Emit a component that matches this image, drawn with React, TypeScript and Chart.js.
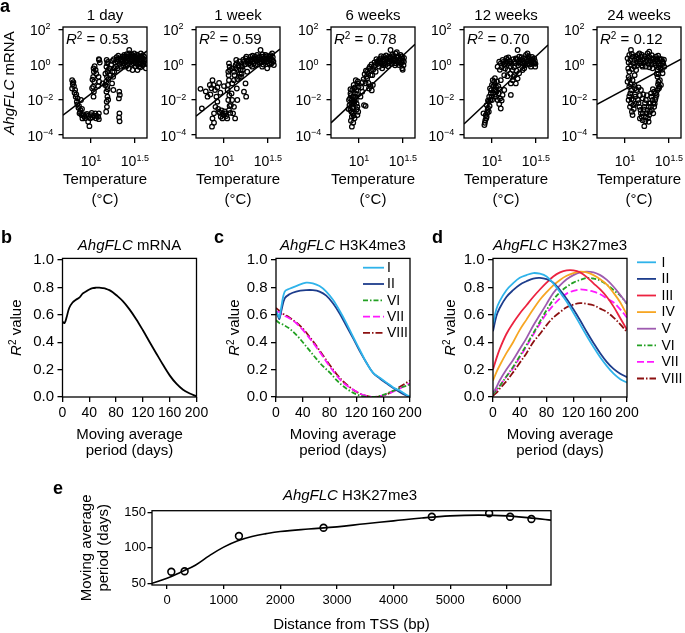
import React, { useEffect, useRef } from "react";
import { Chart, registerables } from "chart.js";

Chart.register(...registerables);

const W = 685;
const H = 633;
const FONT = "'Liberation Sans', Arial, Helvetica, sans-serif";
Chart.defaults.font.family = FONT;
Chart.defaults.color = "#000";

// ================= DATA =================
// ---- panel a: AhgFLC mRNA vs temperature (log-log)
const aTitles = ["1 day", "1 week", "6 weeks", "12 weeks", "24 weeks"];
const aR2 = ["0.53", "0.59", "0.78", "0.70", "0.12"];
const aTempRange = [4.8, 43.5];
const aMrnaRange = [6.8e-5, 135];
const aTempTicks = [10, 31.6228];
const aTempTickLabels = [["10", "1"], ["10", "1.5"]];
const aMrnaTicks = [1e-4, 1e-2, 1, 100];
const aMrnaTickLabels = [["10", "\u22124"], ["10", "\u22122"], ["10", "0"], ["10", "2"]];
// regression line values at aTempRange[0] and aTempRange[1]
const aFitStart = [1.35e-3, 1.17e-3, 4.9e-4, 4.2e-4, 5.5e-3];
const aFitEnd = [5.9, 7.6, 14, 12.9, 2.0];

const a1Day: [number, number][] = [
  [19.2, 0.76], [20.1, 1.46], [21.0, 2.25], [21.9, 1.8], [22.9, 2.8], [23.9, 3.5], [25.0, 1.8], [26.1, 2.25], [27.3, 4.3], [28.5, 2.8],
  [29.8, 3.5], [31.1, 1.8], [32.5, 1.17], [33.9, 2.25], [35.4, 0.76], [37.0, 1.17], [38.7, 2.25], [40.4, 1.46], [42.2, 0.61], [27.3, 6.7],
  [29.8, 0.49], [21.9, 0.76], [18.4, 0.39], [20.1, 0.61], [33.9, 0.49], [26.1, 0.94], [23.9, 1.17], [37.0, 4.3], [31.1, 4.3], [28.5, 1.46],
  [35.4, 1.8], [38.7, 0.94], [40.4, 2.8], [22.9, 1.46], [32.5, 2.8], [25.0, 0.76], [30.4, 1.2], [34.6, 3.1], [24.4, 2.4], [36.2, 2.6],
  [17.0, 1.0], [17.5, 1.6], [18.2, 2.0], [18.9, 1.3], [19.6, 2.6], [20.5, 3.2], [21.4, 1.1], [22.2, 2.0], [23.2, 0.9], [24.0, 2.9],
  [24.8, 1.4], [25.6, 3.9], [26.5, 1.6], [27.0, 0.6], [27.8, 2.0], [28.8, 3.6], [29.4, 1.0], [30.0, 2.4], [30.8, 2.9], [31.6, 1.4],
  [32.2, 0.8], [33.0, 1.9], [33.5, 3.6], [34.2, 1.0], [35.0, 2.4], [35.8, 1.2], [36.6, 1.9], [37.5, 2.9], [38.2, 1.6], [39.0, 3.4],
  [39.6, 1.1], [40.8, 1.9], [41.5, 1.2], [23.5, 2.3], [26.8, 2.9], [29.0, 2.0], [32.8, 2.2], [36.8, 0.7], [18.6, 0.62], [20.3, 1.9],
  [12.4, 1.8], [12.6, 1.3], [12.3, 2.0],
  [10.7, 0.61], [10.8, 0.39], [10.6, 0.2], [10.9, 0.106], [10.6, 0.055], [10.8, 0.029], [10.7, 0.015],
  [11.0, 0.8], [11.3, 0.5], [11.5, 0.3], [10.4, 0.14], [10.3, 0.045],
  [15.1, 1.8], [15.3, 1.17], [15.0, 0.76], [15.4, 0.39], [15.2, 0.2], [14.9, 0.106], [15.3, 0.055], [15.0, 0.029], [15.4, 0.015], [15.1, 0.0078], [15.2, 0.004], [14.9, 0.0021],
  [15.6, 1.4], [15.7, 0.5], [15.8, 0.15], [15.5, 0.04], [15.7, 0.01], [16.2, 0.6], [16.5, 0.25], [14.6, 0.3], [14.5, 0.07],
  [12.2, 0.2], [12.4, 0.106], [12.1, 0.06], [12.3, 0.0017], [12.1, 0.0011], [12.3, 0.0008],
  [21.0, 0.029], [21.3, 0.019], [20.8, 0.012], [21.1, 0.0017], [20.9, 0.001], [21.2, 0.0006],
  [17.6, 0.39], [17.9, 0.2], [17.4, 0.085], [18.0, 0.036], [13.6, 0.085],
  [6.1, 0.13], [6.2, 0.08], [6.1, 0.044], [6.6, 0.036], [6.8, 0.02], [7.05, 0.012], [6.9, 0.0078], [7.3, 0.0045], [7.6, 0.0026], [7.8, 0.00136],
  [7.4, 0.0017], [8.0, 0.00088], [8.4, 0.0011], [7.7, 0.0097], [8.8, 0.00136], [9.3, 0.0012], [9.6, 0.00032], [9.3, 0.00057], [10, 0.00136], [10.4, 0.001],
  [11.2, 0.0017], [11.6, 0.0012],
  [6.3, 0.1], [6.4, 0.06], [6.5, 0.025], [6.7, 0.015], [7.0, 0.0055], [7.2, 0.0035], [7.5, 0.002], [8.2, 0.0015], [8.6, 0.0009], [9.0, 0.0016],
  [9.8, 0.0009], [10.2, 0.0018], [10.8, 0.0013], [11.4, 0.0009], [7.9, 0.003],
];
const a1Week: [number, number][] = [
  [5.4, 0.042], [5.6, 0.0032], [6.5, 0.015], [6.9, 0.069], [7.4, 0.13], [7.6, 0.069], [7.9, 0.036], [8.2, 0.015], [8.4, 0.0078], [8.0, 0.004],
  [7.7, 0.0017], [7.4, 0.00088], [7.7, 0.0005], [7.3, 0.0003], [8.8, 0.0021], [9.2, 0.0011], [9.6, 0.00088], [10, 0.00136], [10.4, 0.0017], [10.9, 0.00088],
  [11.4, 0.0026], [11.2, 0.0097], [11.0, 0.036], [11.4, 0.13], [11.2, 0.39], [11.6, 0.76], [11.4, 1.17], [12.4, 0.085], [13.0, 0.13], [13.0, 0.39],
  [13.6, 0.94], [13.8, 1.8], [12.4, 0.61], [12.2, 0.023], [12.4, 0.0097], [13.0, 0.004], [12.7, 0.0017], [13.4, 0.00088], [14.2, 0.0097], [14.0, 0.044],
  [14.8, 0.2], [15.5, 0.49], [16.1, 0.76], [16.9, 1.46], [17.6, 2.25], [18.4, 0.39], [17.6, 0.085], [16.9, 0.029], [17.9, 0.015], [19.2, 1.8],
  [20.1, 2.8], [21.0, 1.46], [21.9, 2.25], [22.9, 0.94], [23.9, 3.5], [25.0, 1.8], [26.1, 6.7], [27.3, 2.8], [28.5, 1.46], [29.8, 3.5],
  [31.1, 2.25], [32.5, 1.17], [33.9, 2.8], [35.4, 1.8], [37.0, 0.94], [21.0, 0.76], [27.3, 0.76], [31.1, 0.61], [35.4, 4.3], [20.1, 0.94],
  [22.9, 1.8], [24.4, 2.4], [30.4, 1.4], [18.8, 1.1], [15.9, 0.3],
  [17.2, 1.0], [18.0, 2.8], [18.6, 1.6], [19.5, 1.2], [20.3, 2.0], [21.2, 3.2], [22.0, 1.2], [22.6, 2.8], [23.4, 1.6], [24.2, 1.0],
  [25.2, 2.7], [25.8, 1.3], [26.6, 2.0], [27.6, 3.8], [28.0, 1.0], [29.0, 2.3], [30.0, 1.9], [30.8, 3.0], [31.8, 1.5], [32.8, 2.2],
  [33.4, 1.0], [34.4, 2.0], [35.0, 1.2], [36.0, 2.6], [36.6, 1.5], [19.9, 1.5], [23.0, 2.2], [27.0, 1.4], [34.0, 3.4], [29.5, 2.7],
  [13.2, 0.25], [13.5, 0.6], [14.0, 1.2], [14.4, 0.5], [14.6, 0.9], [15.0, 1.5], [15.2, 0.3], [15.8, 1.1], [16.4, 0.5], [16.6, 1.9],
  [14.2, 0.15], [15.6, 0.2],
  [8.6, 0.003], [9.0, 0.0018], [9.4, 0.0025], [9.8, 0.0014], [10.2, 0.0022], [10.6, 0.0012], [11.8, 0.0018], [12.0, 0.005], [11.6, 0.0045], [7.0, 0.02],
  [7.2, 0.045], [6.2, 0.03], [8.4, 0.05], [8.8, 0.09], [9.1, 0.025], [10.0, 0.06],
  [11.3, 0.25], [11.1, 0.07], [11.5, 0.018], [11.7, 0.5],
];
const a6Weeks: [number, number][] = [
  [9.2, 0.13], [9.6, 0.085], [9.0, 0.05], [8.4, 0.036], [8.0, 0.023], [8.5, 0.015], [8.3, 0.0097], [8.8, 0.0063], [7.8, 0.005], [8.4, 0.0037],
  [8.0, 0.0026], [8.5, 0.0017], [8.3, 0.0011], [8.1, 0.00065], [8.3, 0.0003], [9.2, 0.0097], [9.6, 0.004], [9.8, 0.0021], [9.6, 0.00136], [9.0, 0.023],
  [7.7, 0.0097], [8.8, 0.044], [10.4, 0.015], [11.4, 0.005], [11.9, 0.0045], [10.9, 0.029], [11.9, 0.085], [12.4, 0.16], [13.0, 0.044], [14.0, 0.034],
  [14.4, 0.069], [12.1, 0.2], [12.4, 0.39], [13.0, 0.61], [13.6, 0.49], [14.2, 0.25], [14.8, 0.76], [15.5, 0.94], [16.1, 1.46], [16.9, 1.8],
  [17.6, 2.25], [18.4, 1.17], [19.2, 2.8], [20.1, 2.25], [21.0, 1.8], [21.9, 2.8], [22.9, 6.7], [23.9, 3.5], [25.0, 2.25], [26.1, 4.3],
  [27.3, 2.8], [28.5, 1.8], [29.8, 3.5], [31.1, 2.25], [32.5, 1.46], [31.1, 0.61], [28.5, 0.94], [26.1, 1.17], [23.9, 1.46], [16.9, 0.76],
  [15.5, 0.39], [18.4, 0.61], [20.1, 0.94], [21.9, 1.17], [17.6, 1.17], [13.6, 0.25], [24.4, 2.0], [30.4, 1.3], [19.6, 1.6], [8.6, 0.0078], [9.4, 0.0028],
  [7.9, 0.012], [8.1, 0.018], [8.2, 0.006], [8.6, 0.003], [8.7, 0.0013], [8.9, 0.008], [9.1, 0.015], [9.3, 0.035], [9.4, 0.006], [8.2, 0.0021],
  [8.6, 0.0005], [8.0, 0.04], [8.7, 0.07], [9.5, 0.02], [9.9, 0.055], [9.7, 0.11], [8.9, 0.0009], [7.6, 0.003],
  [10.6, 0.05], [11.0, 0.1], [11.3, 0.15], [11.6, 0.28], [12.0, 0.45], [12.7, 0.3], [13.3, 0.75], [13.9, 1.0], [14.5, 0.5], [12.8, 0.09], [13.5, 0.06],
  [15.0, 1.3], [15.8, 2.0], [16.5, 1.1], [17.2, 1.5], [17.9, 3.0], [18.8, 2.0], [19.5, 1.2], [20.4, 3.3], [21.3, 2.2], [22.2, 1.5],
  [23.0, 2.5], [23.6, 1.1], [24.6, 3.0], [25.4, 1.6], [26.6, 2.6], [27.7, 1.3], [28.2, 3.0], [29.3, 2.0], [30.0, 1.1], [30.8, 2.9],
  [31.6, 1.7], [32.2, 0.9], [32.6, 2.4], [25.8, 0.9], [27.0, 5.0], [29.0, 1.6], [19.0, 0.9], [21.5, 0.8], [31.5, 0.5],
];
const a12Weeks: [number, number][] = [
  [8.2, 0.00037], [8.4, 0.0007], [8.5, 0.00136], [8.0, 0.0017], [8.9, 0.0026], [8.7, 0.005], [9.2, 0.0078], [9.3, 0.015], [9.7, 0.023], [9.5, 0.044],
  [10, 0.069], [10.2, 0.13], [10.6, 0.036], [11.1, 0.015], [11.6, 0.0097], [12.1, 0.0058], [12.6, 0.0032], [11.9, 0.023], [11.1, 0.055], [10.6, 0.106],
  [13.2, 0.019], [13.8, 0.036], [8.7, 0.0011], [9.2, 0.0021], [16.4, 0.019], [10, 0.0097],
  [8.3, 0.0005], [8.6, 0.0009], [8.8, 0.0018], [9.0, 0.0035], [9.4, 0.0045], [9.6, 0.01], [9.9, 0.015], [10.3, 0.025], [10.4, 0.06], [10.8, 0.08],
  [10.9, 0.02], [11.3, 0.03], [11.8, 0.06], [12.2, 0.04], [12.4, 0.012], [12.9, 0.009], [9.0, 0.009], [9.8, 0.035], [10.8, 0.17], [11.4, 0.11],
  [11.6, 0.76], [12.1, 1.46], [12.6, 1.17], [13.2, 1.8], [13.8, 0.94], [14.4, 1.46], [15.1, 1.8], [15.8, 1.17], [16.4, 0.76], [17.2, 0.49],
  [18.0, 1.46], [18.7, 2.25], [19.6, 6.7], [20.4, 2.8], [21.4, 1.8], [22.3, 1.17], [23.3, 2.25], [24.4, 3.5], [25.4, 4.3], [26.6, 2.25],
  [27.8, 1.46], [29.0, 1.8], [30.3, 1.17], [31.1, 0.76], [16.4, 0.085], [17.2, 0.13], [18.0, 0.25], [19.6, 0.16], [20.4, 0.32], [18.7, 0.085],
  [15.1, 0.49], [13.8, 0.25], [12.6, 0.13], [23.3, 0.61], [27.8, 0.76], [30.3, 2.25], [22.3, 0.49], [14.6, 2.3], [21.0, 1.3], [25.9, 1.5], [28.6, 2.7],
  [12.3, 0.5], [12.9, 0.7], [13.5, 1.4], [14.1, 0.6], [14.8, 1.1], [15.4, 2.5], [16.0, 1.5], [16.8, 1.1], [17.5, 2.0], [17.8, 0.7],
  [18.4, 1.2], [19.2, 2.0], [19.9, 1.4], [20.8, 1.1], [21.7, 2.6], [22.7, 1.6], [23.8, 1.2], [24.9, 1.9], [25.6, 1.1], [26.2, 3.0],
  [27.2, 1.8], [28.2, 1.1], [29.5, 1.4], [30.8, 1.6], [31.3, 1.1], [26.9, 1.0], [24.0, 0.9], [20.0, 0.9], [16.2, 0.3], [17.6, 0.2],
  [19.0, 0.45], [15.0, 0.22],
];
const a24Weeks: [number, number][] = [
  [10.7, 2.25], [11.2, 3.5], [11.7, 6.7], [12.2, 2.8], [12.8, 1.8], [13.4, 2.25], [14.0, 3.5], [14.6, 4.3], [15.2, 2.8], [15.9, 1.8],
  [16.6, 2.25], [17.3, 1.46], [18.1, 4.3], [18.9, 2.8], [19.8, 2.25], [20.6, 1.8], [21.5, 1.17], [22.5, 2.8], [23.5, 1.46], [24.6, 2.25],
  [25.7, 0.94], [26.8, 1.46], [28.0, 0.76], [18.9, 5.3], [14.6, 1.17], [17.3, 0.76], [20.6, 0.61], [12.8, 0.76], [11.7, 0.94], [11.2, 0.39],
  [13.4, 0.49], [23.5, 0.49], [26.8, 0.32], [15.9, 0.76], [22.5, 0.94],
  [11.0, 1.3], [11.5, 1.8], [12.0, 4.0], [12.5, 1.2], [13.1, 3.0], [13.7, 1.4], [14.3, 2.0], [14.9, 1.5], [15.5, 3.6], [16.2, 1.2],
  [16.9, 3.0], [17.7, 2.1], [18.5, 1.1], [19.3, 1.6], [20.2, 3.4], [21.0, 2.2], [21.9, 1.5], [22.9, 2.0], [23.9, 3.2], [24.2, 1.1],
  [25.1, 1.8], [26.2, 2.0], [27.3, 1.1], [27.8, 1.9], [20.0, 1.0], [15.5, 0.9], [13.8, 0.9], [25.5, 0.6], [24.0, 0.7], [19.0, 0.7],
  [26.4, 0.5], [12.0, 0.55],
  [11.0, 0.2], [10.7, 0.106], [11.2, 0.055], [11.5, 0.023], [11.0, 0.0097], [11.7, 0.0063], [11.4, 0.004], [12.0, 0.0021], [12.2, 0.00136], [12.5, 0.0097],
  [13.1, 0.015], [13.6, 0.036], [12.8, 0.069], [12.2, 0.13],
  [10.9, 0.6], [11.3, 0.15], [11.6, 0.08], [11.8, 0.035], [11.2, 0.016], [11.9, 0.011], [12.4, 0.005], [12.6, 0.003], [13.0, 0.02], [13.3, 0.006],
  [12.9, 0.25], [13.0, 0.045],
  [14.0, 0.0097], [14.6, 0.004], [15.2, 0.0017], [14.8, 0.00088], [15.9, 0.0007], [16.6, 0.00032], [17.3, 0.0011], [18.1, 0.0026], [18.9, 0.00136], [19.8, 0.004],
  [20.6, 0.0097], [18.9, 0.0063], [17.3, 0.0097], [16.6, 0.004], [15.9, 0.012], [19.8, 0.023], [21.5, 0.029], [21.0, 0.0017], [18.6, 0.00057], [15.2, 0.036],
  [14.3, 0.05],
  [14.3, 0.0065], [15.0, 0.0027], [15.5, 0.0011], [16.0, 0.0017], [16.3, 0.0028], [17.0, 0.0006], [17.6, 0.0017], [18.3, 0.0009], [18.6, 0.004], [19.3, 0.0021],
  [19.5, 0.0065], [20.2, 0.0026], [20.0, 0.015], [16.9, 0.0065], [17.8, 0.018], [16.2, 0.02], [14.8, 0.018],
  [23.5, 0.2], [24.1, 0.106], [24.6, 0.055], [23.5, 0.036], [22.9, 0.019], [22.1, 0.0097], [21.5, 0.004], [25.0, 0.13], [25.7, 0.069],
  [23.0, 0.3], [24.0, 0.28], [23.8, 0.075], [24.4, 0.045], [22.5, 0.025], [22.4, 0.013], [21.8, 0.006], [21.0, 0.0065], [20.8, 0.04],
];
const aPoints = [a1Day, a1Week, a6Weeks, a12Weeks, a24Weeks];

// ---- panels b, c, d: R^2 vs moving average period (days)
const r2Ticks = [0, 0.2, 0.4, 0.6, 0.8, 1.0];
const r2Range = [0, 1.012];
const dayTicks = [0, 40, 80, 120, 160, 200];
const dayRange = [0, 200];

const bDays = [0, 3, 6, 10, 15, 20, 25, 30, 35, 40, 45, 50, 55, 60, 65, 70, 75, 80, 90, 100, 110, 120, 130, 140, 150, 160, 170, 180, 190, 200];
const bMrna = [0.55, 0.54, 0.58, 0.65, 0.69, 0.71, 0.725, 0.755, 0.77, 0.785, 0.795, 0.798, 0.798, 0.795, 0.79, 0.78, 0.765, 0.745, 0.7, 0.64, 0.568, 0.487, 0.402, 0.318, 0.235, 0.158, 0.097, 0.053, 0.026, 0.005];

const cDaysA = [0, 3, 5, 8, 13, 20, 30, 45, 55, 65, 75, 85, 95, 105, 115, 125, 135, 145, 155, 165, 175, 185, 195, 200];
const cI = [0.63, 0.6, 0.58, 0.66, 0.77, 0.79, 0.81, 0.835, 0.83, 0.81, 0.77, 0.71, 0.63, 0.54, 0.44, 0.345, 0.25, 0.176, 0.14, 0.105, 0.07, 0.045, 0.015, 0.005];
const cII = [0.62, 0.59, 0.57, 0.63, 0.72, 0.75, 0.77, 0.78, 0.78, 0.77, 0.74, 0.685, 0.61, 0.52, 0.43, 0.335, 0.25, 0.175, 0.135, 0.1, 0.065, 0.035, 0.01, 0.0];
const cDaysB = [0, 5, 10, 20, 30, 40, 50, 60, 70, 80, 90, 100, 110, 120, 130, 140, 150, 160, 170, 180, 190, 200];
const cVI = [0.56, 0.54, 0.53, 0.5, 0.455, 0.4, 0.34, 0.28, 0.225, 0.18, 0.125, 0.08, 0.045, 0.02, 0.005, 0.0, 0.002, 0.015, 0.035, 0.055, 0.075, 0.09];
const cVII = [0.62, 0.62, 0.6, 0.575, 0.54, 0.49, 0.43, 0.365, 0.295, 0.225, 0.16, 0.105, 0.07, 0.04, 0.015, 0.002, 0.002, 0.012, 0.03, 0.05, 0.075, 0.1];
const cVIII = [0.65, 0.63, 0.61, 0.58, 0.545, 0.5, 0.44, 0.375, 0.305, 0.235, 0.17, 0.115, 0.072, 0.038, 0.015, 0.003, 0.0, 0.01, 0.03, 0.06, 0.09, 0.12];

const dDays = [0, 5, 10, 20, 30, 40, 50, 60, 70, 80, 90, 100, 110, 120, 130, 140, 150, 160, 170, 180, 190, 200];
const dI = [0.53, 0.64, 0.7, 0.78, 0.83, 0.87, 0.89, 0.905, 0.9, 0.88, 0.83, 0.765, 0.695, 0.615, 0.53, 0.445, 0.365, 0.29, 0.225, 0.17, 0.13, 0.105];
const dII = [0.48, 0.59, 0.65, 0.73, 0.78, 0.82, 0.845, 0.865, 0.87, 0.86, 0.835, 0.78, 0.715, 0.64, 0.56, 0.475, 0.395, 0.32, 0.255, 0.205, 0.17, 0.145];
const dIII = [0.2, 0.28, 0.35, 0.46, 0.54, 0.61, 0.67, 0.73, 0.785, 0.835, 0.88, 0.91, 0.925, 0.925, 0.91, 0.875, 0.83, 0.785, 0.73, 0.66, 0.575, 0.49];
const dIV = [0.12, 0.18, 0.23, 0.32, 0.4, 0.49, 0.565, 0.64, 0.71, 0.765, 0.815, 0.855, 0.885, 0.905, 0.915, 0.91, 0.89, 0.86, 0.82, 0.76, 0.69, 0.6];
const dV = [0.03, 0.07, 0.12, 0.2, 0.27, 0.35, 0.43, 0.52, 0.6, 0.68, 0.76, 0.815, 0.86, 0.89, 0.91, 0.915, 0.91, 0.89, 0.855, 0.805, 0.745, 0.68];
const dVI = [0.02, 0.05, 0.08, 0.15, 0.22, 0.3, 0.38, 0.465, 0.55, 0.635, 0.71, 0.765, 0.805, 0.835, 0.855, 0.87, 0.865, 0.85, 0.82, 0.78, 0.74, 0.68];
const dVII = [0.02, 0.05, 0.08, 0.15, 0.21, 0.29, 0.37, 0.455, 0.535, 0.61, 0.67, 0.72, 0.755, 0.775, 0.785, 0.78, 0.77, 0.75, 0.72, 0.69, 0.64, 0.58];
const dVIII = [0.01, 0.03, 0.06, 0.115, 0.18, 0.25, 0.32, 0.4, 0.46, 0.525, 0.58, 0.62, 0.655, 0.675, 0.685, 0.68, 0.67, 0.645, 0.62, 0.58, 0.53, 0.475];

// ---- panel e
const eDistance = [76, 311, 1270, 2764, 4676, 5688, 6058, 6434];
const ePeriod = [66.3, 67, 116.6, 128.3, 143.8, 148.6, 143.8, 140.6];
const eFitDistance = [-265, 0, 250, 500, 750, 1000, 1250, 1500, 1750, 2000, 2500, 3000, 3500, 4000, 4500, 5000, 5500, 6000, 6500, 6780];
const eFitPeriod = [50, 57, 66, 75.5, 89, 101, 110, 116, 120, 123, 126.5, 129.5, 134, 138, 142, 145, 146, 145, 141.5, 139];
const eXTicks = [0, 1000, 2000, 3000, 4000, 5000, 6000];
const eYTicks = [50, 100, 150];
const eXRange = [-265, 6780];
const eYRange = [47.6, 152.3];

// ================= STYLES / LAYOUT =================
const seriesStyle: Record<string, { color: string; dash: number[] }> = {
  I: { color: "#2FB3EA", dash: [] },
  II: { color: "#1D3D8C", dash: [] },
  III: { color: "#EC2340", dash: [] },
  IV: { color: "#F7A623", dash: [] },
  V: { color: "#9E5BB0", dash: [] },
  VI: { color: "#22A022", dash: [5, 2, 1.5, 2] },
  VII: { color: "#FF19FF", dash: [7, 3] },
  VIII: { color: "#8C1010", dash: [7, 2, 1.5, 2] },
};

const aBoxL = [63, 196, 331, 464, 597];
const aBoxW = 84;
const aBoxT = 27;
const aBoxB = 138;
const bcdBoxL = [62.5, 276, 493];
const bcdBoxW = 134;
const bcdBoxT = 258.4;
const bcdBoxB = 397;
const eBox = { l: 152, r: 551, t: 510.7, b: 585 };

type Seg = { t: string; it?: boolean; sup?: boolean; bold?: boolean };

function rich(
  ctx: CanvasRenderingContext2D,
  segs: Seg[],
  x: number,
  y: number,
  size: number,
  align: "left" | "center" | "right" = "left",
  rot = 0,
  raise = size * 0.38
) {
  ctx.save();
  ctx.translate(x, y);
  if (rot) ctx.rotate(rot);
  ctx.fillStyle = "#000";
  ctx.textAlign = "left";
  ctx.textBaseline = "alphabetic";
  const fonts = segs.map(
    (s) => `${s.it ? "italic " : ""}${s.bold ? "bold " : ""}${s.sup ? Math.round(size * 0.64) : size}px ${FONT}`
  );
  const widths = segs.map((s, i) => {
    ctx.font = fonts[i];
    return ctx.measureText(s.t).width;
  });
  const total = widths.reduce((a, b) => a + b, 0);
  let cx = align === "left" ? 0 : align === "center" ? -total / 2 : -total;
  segs.forEach((s, i) => {
    ctx.font = fonts[i];
    ctx.fillText(s.t, cx, s.sup ? -raise : 0);
    cx += widths[i];
  });
  ctx.restore();
}

function drawBox(chart: any) {
  const ctx = chart.ctx;
  const ca = chart.chartArea;
  ctx.save();
  ctx.strokeStyle = "#000";
  ctx.lineWidth = 1.3;
  ctx.strokeRect(ca.left, ca.top, ca.right - ca.left, ca.bottom - ca.top);
  ctx.restore();
}

const AXY = 50;
const AXX = 32;
type Box = { l: number; t: number; r: number; b: number };

function axis(
  type: string,
  range: number[],
  ticks: number[],
  isY: boolean,
  t: { len: number; pad: number; size: number; show: boolean; fmt?: (v: number) => string }
) {
  return {
    type,
    min: range[0],
    max: range[1],
    position: isY ? "left" : "bottom",
    afterFit: (s: any) => {
      if (isY) s.width = AXY;
      else s.height = AXX;
    },
    afterBuildTicks: (s: any) => {
      s.ticks = ticks.map((v) => ({ value: v }));
    },
    border: { display: false },
    grid: { drawOnChartArea: false, drawTicks: true, tickLength: t.len, color: "#000", lineWidth: 1.3 },
    ticks: {
      display: t.show,
      padding: t.pad,
      font: { size: t.size, family: FONT },
      color: "#000",
      maxRotation: 0,
      minRotation: 0,
      autoSkip: false,
      callback: (v: any) => (t.fmt ? t.fmt(Number(v)) : String(v)),
    },
    title: { display: false },
  };
}

function baseOptions(box: Box, scales: any) {
  return {
    responsive: false,
    maintainAspectRatio: false,
    animation: false,
    devicePixelRatio: 1,
    events: [],
    layout: {
      autoPadding: false,
      padding: { left: box.l - AXY, top: box.t, right: W - box.r, bottom: H - box.b - AXX },
    },
    plugins: { legend: { display: false }, tooltip: { enabled: false }, title: { display: false } },
    scales,
  };
}

// ================= CHART BUILDERS =================
function buildA(k: number) {
  return (canvas: HTMLCanvasElement) => {
    const box = { l: aBoxL[k], r: aBoxL[k] + aBoxW, t: aBoxT, b: aBoxB };
    const deco = {
      id: "decoA" + k,
      afterDraw(chart: any) {
        const ctx = chart.ctx;
        const ca = chart.chartArea;
        drawBox(chart);
        const cx = (ca.left + ca.right) / 2;
        rich(ctx, [{ t: aTitles[k] }], cx, 20, 15, "center");
        rich(ctx, [{ t: "R", it: true }, { t: "2", sup: true }, { t: " = " + aR2[k] }], ca.left + 3, 44, 15, "left", 0, 4.8);
        const ys = chart.scales.y;
        const xs = chart.scales.x;
        aMrnaTicks.forEach((v, i) => {
          const py = ys.getPixelForValue(v);
          rich(ctx, [{ t: aMrnaTickLabels[i][0] }, { t: aMrnaTickLabels[i][1], sup: true }], ca.left - 22.7, py + 5.5, 14, "center", 0, 5.5);
        });
        aTempTicks.forEach((v, i) => {
          const px = xs.getPixelForValue(v);
          rich(ctx, [{ t: aTempTickLabels[i][0] }, { t: aTempTickLabels[i][1], sup: true }], px, 166, 14, "center", 0, 5.5);
        });
        rich(ctx, [{ t: "Temperature" }], cx, 184, 15, "center");
        rich(ctx, [{ t: "(\u00B0C)" }], cx, 204, 15, "center");
        if (k === 0) {
          rich(ctx, [{ t: "a", bold: true }], 0, 12, 18);
          rich(ctx, [{ t: "AhgFLC", it: true }, { t: " mRNA" }], 14, 83, 15, "center", -Math.PI / 2);
        }
      },
    };
    return new Chart(canvas, {
      type: "scatter",
      data: {
        datasets: [
          {
            type: "scatter",
            data: aPoints[k].map(([x, y]) => ({ x, y })),
            pointRadius: 2.3,
            pointHoverRadius: 2.3,
            pointBorderWidth: 1.25,
            pointBackgroundColor: "rgba(0,0,0,0)",
            pointBorderColor: "#000",
          },
          {
            type: "line",
            data: [
              { x: aTempRange[0], y: aFitStart[k] },
              { x: aTempRange[1], y: aFitEnd[k] },
            ],
            showLine: true,
            borderColor: "#000",
            borderWidth: 1.5,
            pointRadius: 0,
            fill: false,
          },
        ],
      },
      options: baseOptions(box, {
        x: axis("logarithmic", aTempRange, aTempTicks, false, { len: 5, pad: 3, size: 14, show: false }),
        y: axis("logarithmic", aMrnaRange, aMrnaTicks, true, { len: 4.5, pad: 3, size: 14, show: false }),
      }) as any,
      plugins: [deco],
    } as any);
  };
}

const bcdLetters = ["b", "c", "d"];
const bcdSubtitles = [" mRNA", " H3K4me3", " H3K27me3"];
const bcdLetterX = [1, 214, 432];
const bcdYTitleX = [21, 239, 455];

function legendPlugin(x1: number, x2: number, xt: number, y0: number, dy: number) {
  return {
    id: "legendLines",
    afterDraw(chart: any) {
      const ctx = chart.ctx;
      chart.data.datasets.forEach((ds: any, i: number) => {
        const y = y0 + i * dy;
        ctx.save();
        ctx.strokeStyle = ds.borderColor;
        ctx.lineWidth = ds.borderWidth;
        ctx.setLineDash(ds.borderDash || []);
        ctx.beginPath();
        ctx.moveTo(x1, y);
        ctx.lineTo(x2, y);
        ctx.stroke();
        ctx.restore();
        ctx.save();
        ctx.font = `14px ${FONT}`;
        ctx.fillStyle = "#000";
        ctx.textBaseline = "middle";
        ctx.textAlign = "left";
        ctx.fillText(ds.label, xt, y + 0.5);
        ctx.restore();
      });
    },
  };
}

function lineDataset(label: string, days: number[], vals: number[]) {
  const st = seriesStyle[label] || { color: "#000", dash: [] };
  return {
    label,
    data: days.map((d, i) => ({ x: d, y: vals[i] })),
    borderColor: st.color,
    borderDash: st.dash,
    borderWidth: 1.8,
    pointRadius: 0,
    tension: 0.35,
    fill: false,
  };
}

function buildBCD(k: number) {
  return (canvas: HTMLCanvasElement) => {
    const box = { l: bcdBoxL[k], r: bcdBoxL[k] + bcdBoxW, t: bcdBoxT, b: bcdBoxB };
    let datasets: any[] = [];
    if (k === 0) {
      datasets = [{ ...lineDataset("mRNA", bDays, bMrna), borderColor: "#000" }];
    } else if (k === 1) {
      datasets = [
        lineDataset("I", cDaysA, cI),
        lineDataset("II", cDaysA, cII),
        lineDataset("VI", cDaysB, cVI),
        lineDataset("VII", cDaysB, cVII),
        lineDataset("VIII", cDaysB, cVIII),
      ];
    } else {
      datasets = [
        lineDataset("I", dDays, dI),
        lineDataset("II", dDays, dII),
        lineDataset("III", dDays, dIII),
        lineDataset("IV", dDays, dIV),
        lineDataset("V", dDays, dV),
        lineDataset("VI", dDays, dVI),
        lineDataset("VII", dDays, dVII),
        lineDataset("VIII", dDays, dVIII),
      ];
    }
    const deco = {
      id: "decoBCD" + k,
      afterDraw(chart: any) {
        const ctx = chart.ctx;
        const ca = chart.chartArea;
        drawBox(chart);
        const cx = (ca.left + ca.right) / 2;
        rich(ctx, [{ t: bcdLetters[k], bold: true }], bcdLetterX[k], 243, 18);
        rich(ctx, [{ t: "AhgFLC", it: true }, { t: bcdSubtitles[k] }], cx, 250, 15, "center");
        rich(ctx, [{ t: "R", it: true }, { t: "2", sup: true }, { t: " value" }], bcdYTitleX[k], (ca.top + ca.bottom) / 2, 15, "center", -Math.PI / 2, 4.8);
        rich(ctx, [{ t: "Moving average" }], cx, 439, 15, "center");
        rich(ctx, [{ t: "period (days)" }], cx, 455, 15, "center");
      },
    };
    const plugins: any[] = [deco];
    if (k === 1) plugins.push(legendPlugin(363, 384, 387, 267.7, 16.3));
    if (k === 2) plugins.push(legendPlugin(637, 656, 661.5, 262.3, 16.6));
    return new Chart(canvas, {
      type: "line",
      data: { datasets },
      options: baseOptions(box, {
        x: axis("linear", dayRange, dayTicks, false, { len: 5, pad: 3, size: 14, show: true }),
        y: axis("linear", r2Range, r2Ticks, true, { len: 5, pad: 3.5, size: 15, show: true, fmt: (v) => v.toFixed(1) }),
      }) as any,
      plugins,
    } as any);
  };
}

function buildE(canvas: HTMLCanvasElement) {
  const deco = {
    id: "decoE",
    afterDraw(chart: any) {
      const ctx = chart.ctx;
      const ca = chart.chartArea;
      drawBox(chart);
      const cy = (ca.top + ca.bottom) / 2;
      rich(ctx, [{ t: "e", bold: true }], 53, 494, 18);
      rich(ctx, [{ t: "AhgFLC", it: true }, { t: " H3K27me3" }], 350, 500, 15, "center");
      rich(ctx, [{ t: "Moving average" }], 91, cy, 15, "center", -Math.PI / 2);
      rich(ctx, [{ t: "period (days)" }], 108, cy, 15, "center", -Math.PI / 2);
      rich(ctx, [{ t: "Distance from TSS (bp)" }], (ca.left + ca.right) / 2, 629, 15, "center");
    },
  };
  return new Chart(canvas, {
    type: "scatter",
    data: {
      datasets: [
        {
          type: "line",
          data: eFitDistance.map((x, i) => ({ x, y: eFitPeriod[i] })),
          showLine: true,
          borderColor: "#000",
          borderWidth: 1.6,
          pointRadius: 0,
          tension: 0.4,
          fill: false,
        },
        {
          type: "scatter",
          data: eDistance.map((x, i) => ({ x, y: ePeriod[i] })),
          pointRadius: 3.4,
          pointHoverRadius: 3.4,
          pointBorderWidth: 1.6,
          pointBackgroundColor: "rgba(0,0,0,0)",
          pointBorderColor: "#000",
        },
      ],
    },
    options: baseOptions(eBox, {
      x: axis("linear", eXRange, eXTicks, false, { len: 4, pad: 4, size: 13, show: true }),
      y: axis("linear", eYRange, eYTicks, true, { len: 4.5, pad: 1.5, size: 13, show: true }),
    }) as any,
    plugins: [deco],
  } as any);
}

const builders: ((c: HTMLCanvasElement) => Chart)[] = [
  buildA(0),
  buildA(1),
  buildA(2),
  buildA(3),
  buildA(4),
  buildBCD(0),
  buildBCD(1),
  buildBCD(2),
  buildE,
];

function Layer({ build }: { build: (c: HTMLCanvasElement) => Chart }) {
  const ref = useRef<HTMLCanvasElement>(null);
  useEffect(() => {
    const chart = build(ref.current as HTMLCanvasElement);
    return () => chart.destroy();
  }, [build]);
  return (
    <canvas
      ref={ref}
      width={W}
      height={H}
      style={{ position: "absolute", left: 0, top: 0, width: W, height: H }}
    />
  );
}

export default function App() {
  return (
    <div
      style={{
        position: "fixed",
        left: 0,
        top: 0,
        width: W,
        height: H,
        background: "#fff",
        overflow: "hidden",
      }}
    >
      {builders.map((b, i) => (
        <Layer key={i} build={b} />
      ))}
    </div>
  );
}
